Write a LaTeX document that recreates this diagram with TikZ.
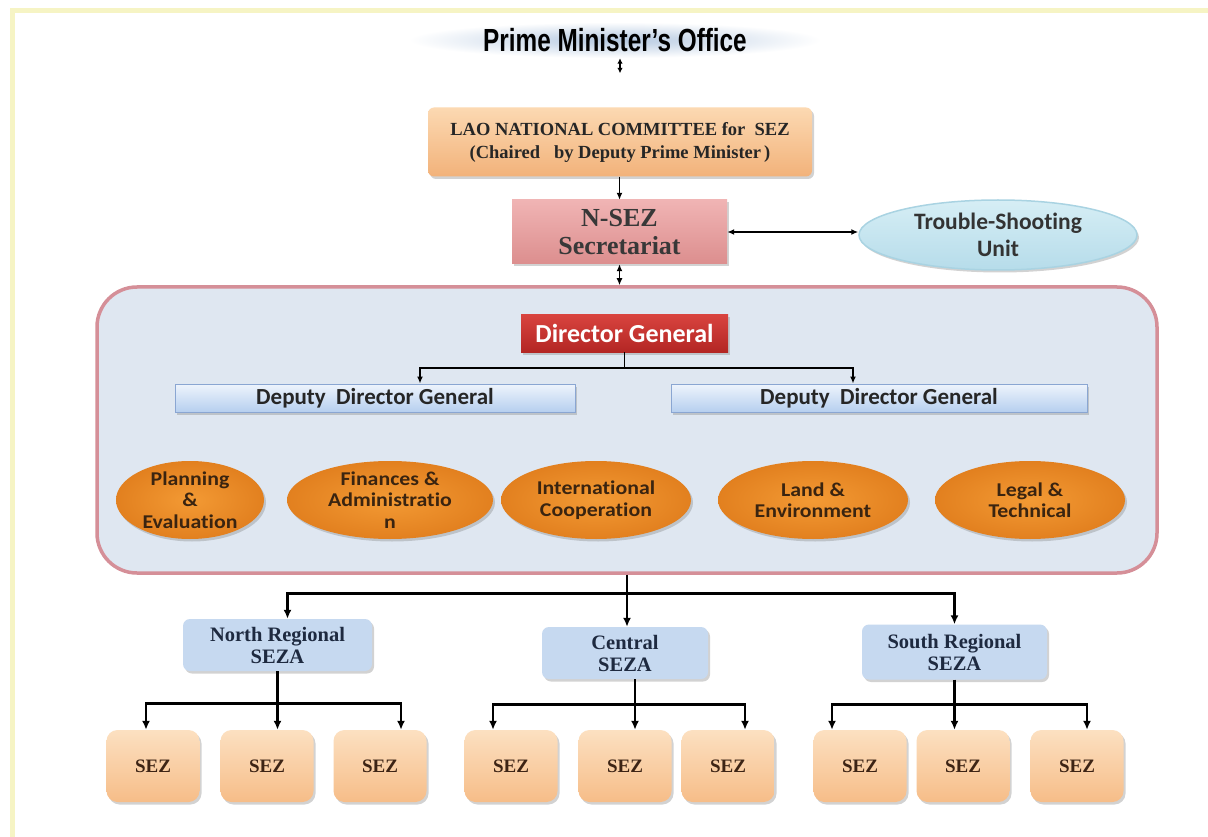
\documentclass[tikz,border=0pt]{standalone}
\usepackage{fontspec}
\usepackage{graphicx}
\setmainfont{Liberation Serif}
\newfontfamily\carl{Carlito}[Ligatures=NoCommon]
\newfontfamily\carlw{Carlito}[FakeStretch=1.12,Ligatures=NoCommon]
\newfontfamily\arialf{Liberation Sans}
\usetikzlibrary{shapes.geometric,shadows,arrows.meta,calc}
\definecolor{frameyel}{HTML}{F6F4C4}
\definecolor{pmblue}{HTML}{B4C8E0}
\definecolor{laotop}{HTML}{FCD9B2}
\definecolor{laobot}{HTML}{F2B27A}
\definecolor{nseztop}{HTML}{F0B4B4}
\definecolor{nsezbot}{HTML}{DC8E8E}
\definecolor{tstop}{HTML}{D6EEF5}
\definecolor{tsbot}{HTML}{B6DCEA}
\definecolor{tsedge}{HTML}{A9D3E2}
\definecolor{contfill}{HTML}{DFE7F1}
\definecolor{contedge}{HTML}{D58F98}
\definecolor{dgtop}{HTML}{D9443F}
\definecolor{dgbot}{HTML}{B32624}
\definecolor{deptop}{HTML}{EEF4FC}
\definecolor{depbot}{HTML}{B6CFEF}
\definecolor{depedge}{HTML}{8AA6D2}
\definecolor{orin}{HTML}{F39A34}
\definecolor{orout}{HTML}{E2801F}
\definecolor{ortext}{HTML}{3A2410}
\definecolor{sezafill}{HTML}{C6D9F0}
\definecolor{sezatext}{HTML}{1E2A40}
\definecolor{seztop}{HTML}{FCE0C1}
\definecolor{sezbot}{HTML}{F6BD88}
\definecolor{seztext}{HTML}{3D2415}
\tikzset{
  shad/.style={drop shadow={shadow xshift=2pt,shadow yshift=-2.5pt,opacity=0.35}},
  laobox/.style={rounded corners=6pt, top color=laotop, bottom color=laobot, shad,
    minimum width=384pt, minimum height=69pt, align=center,
    font=\bfseries\fontsize{18.5}{23}\selectfont, text=black!85},
  nsezbox/.style={top color=nseztop, bottom color=nsezbot, shad,
    minimum width=215pt, minimum height=64pt, align=center, inner sep=0pt,
    font=\bfseries\fontsize{26}{28}\selectfont, text=black!78},
  tsell/.style={ellipse, top color=tstop, bottom color=tsbot, draw=tsedge, line width=1.5pt, shad,
    minimum width=278pt, minimum height=70pt, align=center, inner sep=-6pt,
    font=\carl\bfseries\fontsize{23.5}{27}\selectfont, text=black!80},
  contbox/.style={rounded corners=40pt, fill=contfill, draw=contedge, line width=3.5pt,
    minimum width=1060pt, minimum height=286pt},
  dgbox/.style={top color=dgtop, bottom color=dgbot, shad,
    minimum width=207pt, minimum height=38pt, inner sep=0pt,
    font=\carl\bfseries\fontsize{26}{28}\selectfont, text=white},
  depbox/.style={top color=deptop, bottom color=depbot, draw=depedge, line width=1pt, shad,
    minimum height=28pt, inner sep=0pt, font=\carl\bfseries\fontsize{23}{24}\selectfont, text=black!85},
  orell/.style={ellipse, inner color=orin, outer color=orout, shad,
    minimum height=78pt, align=center, inner sep=-8pt,
    font=\carlw\bfseries\fontsize{19.5}{21.5}\selectfont, text=ortext},
  sezabox/.style={rounded corners=7pt, fill=sezafill, shad,
    minimum height=52pt, align=center, inner sep=0pt,
    font=\bfseries\fontsize{20.5}{22}\selectfont, text=sezatext},
  sezbox/.style={rounded corners=11pt, top color=seztop, bottom color=sezbot, shad,
    minimum width=93pt, minimum height=72pt,
    font=\bfseries\fontsize{19}{20}\selectfont, text=seztext},
  arrT/.style={draw=black, line width=1.6pt, -{Latex[length=7pt,width=6pt]}},
  arrD/.style={draw=black, line width=1.6pt, {Latex[length=7pt,width=6pt]}-{Latex[length=7pt,width=6pt]}},
  arrS/.style={draw=black, line width=1.3pt, {Latex[length=5.5pt,width=5.5pt]}-{Latex[length=5.5pt,width=5.5pt]}},
  arrB/.style={draw=black, line width=2.6pt, -{Latex[length=9pt,width=8pt]}}
}
\begin{document}
\begin{tikzpicture}[x=1pt,y=-1pt]
\useasboundingbox (0,0) rectangle (1208,837);
\fill[white] (0,0) rectangle (1208,837);
\draw[frameyel, line width=5pt] (12,845) -- (12,11) -- (1215,11);

% Prime Minister's Office
\node[ellipse, minimum width=412pt, minimum height=36pt, inner sep=-6pt, inner color=pmblue, outer color=white] (pm) at (615,40)
  {\arialf\bfseries\fontsize{32}{32}\selectfont\scalebox{0.76}[1]{Prime Minister’s Office}};

\node[laobox] (lao) at (620,142) {LAO NATIONAL COMMITTEE for\ \ SEZ\\(Chaired\ \ \ by Deputy Prime Minister\,)};
\node[nsezbox] (nsez) at (619.5,232) {N-SEZ\\Secretariat};
\node[tsell] (ts) at (998,235) {Trouble-Shooting\\Unit};

\draw[arrS] (pm.south -| lao.north) -- ([yshift=34pt]lao.north);
\draw[arrT] (lao.south -| nsez.north) -- (nsez.north);
\draw[arrD] (nsez.east) -- (nsez.east -| ts.west);

% container
\node[contbox] (cont) at (627,430) {};
\draw[arrD] (nsez.south) -- (nsez.south |- cont.north);

\node[dgbox] (dg) at (624.5,333) {Director General};
\node[depbox, minimum width=400pt] (depL) at (375,398) {Deputy\ \ Director General};
\node[depbox, minimum width=416pt] (depR) at (879,398) {Deputy\ \ Director General};
\draw[arrT] (dg.south) -- ++(0,16) -| ([xshift=45pt]depL.north);
\draw[arrT] (dg.south) -- ++(0,16) -| ([xshift=-26pt]depR.north);

\node[orell, minimum width=148pt] (pe) at (190,500) {Planning\\\&\\Evaluation};
\node[orell, minimum width=206pt] (fa) at (390,500) {Finances \&\\Administratio\\n};
\node[orell, minimum width=190pt] (ic) at (596,500) {International\\Cooperation};
\node[orell, minimum width=190pt] (le) at (813,500) {Land \&\\Environment};
\node[orell, minimum width=190pt] (lt) at (1030,500) {Legal \&\\Technical};

% regional
\node[sezabox, minimum width=189pt] (north) at (277.5,645) {North Regional\\SEZA};
\node[sezabox, minimum width=166pt] (central) at (625,653) {Central\\SEZA};
\node[sezabox, minimum width=185pt, minimum height=55pt] (south) at (954.5,652) {South Regional\\SEZA};

\draw[arrB] (cont.south) -- (cont.south |- central.north);
\draw[arrB] (cont.south) -- ++(0,19) -| ([xshift=10pt]north.north);
\draw[arrB] (cont.south) -- ++(0,19) -| (south.north);

% SEZ boxes
\node[sezbox] (n1) at (153,766) {SEZ};
\node[sezbox] (n2) at (267,766) {SEZ};
\node[sezbox] (n3) at (380,766) {SEZ};
\node[sezbox] (c1) at (511,766) {SEZ};
\node[sezbox] (c2) at (625,766) {SEZ};
\node[sezbox] (c3) at (728,766) {SEZ};
\node[sezbox] (s1) at (860,766) {SEZ};
\node[sezbox] (s2) at (963,766) {SEZ};
\node[sezbox] (s3) at (1077,766) {SEZ};

\draw[arrB] (north.south) -- (north.south |- n2.north);
\draw[arrB] ($(north.south)!0.55!(north.south |- n2.north)$) -| ([xshift=-7pt]n1.north);
\draw[arrB] ($(north.south)!0.55!(north.south |- n2.north)$) -| ([xshift=21pt]n3.north);

\draw[arrB] ([xshift=10pt]central.south) -- ([xshift=10pt]central.south |- c2.north);
\draw[arrB] ($([xshift=10pt]central.south)!0.5!([xshift=10pt]central.south |- c2.north)$) -| ([xshift=-18pt]c1.north);
\draw[arrB] ($([xshift=10pt]central.south)!0.5!([xshift=10pt]central.south |- c2.north)$) -| ([xshift=17pt]c3.north);

\draw[arrB] (south.south) -- (south.south |- s2.north);
\draw[arrB] ($(south.south)!0.5!(south.south |- s2.north)$) -| ([xshift=-28pt]s1.north);
\draw[arrB] ($(south.south)!0.5!(south.south |- s2.north)$) -| ([xshift=10pt]s3.north);
\end{tikzpicture}
\end{document}
